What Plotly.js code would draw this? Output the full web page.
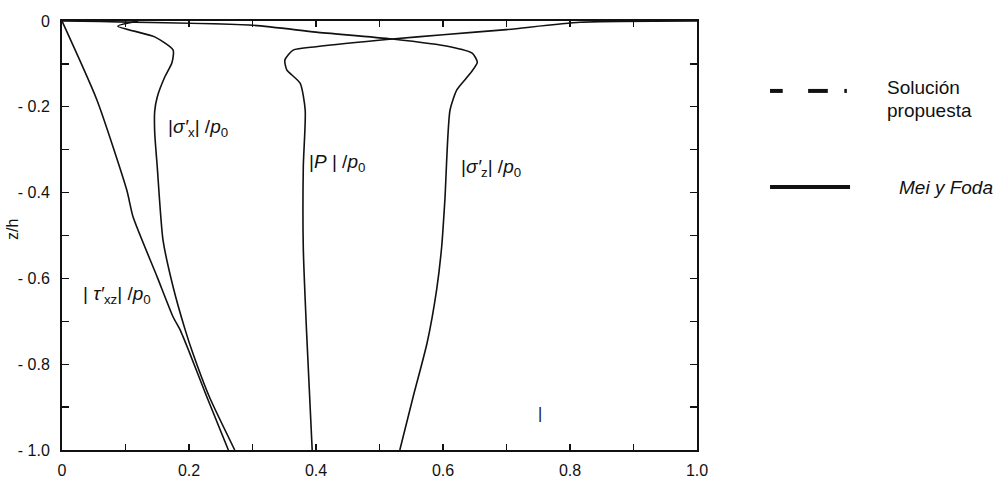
<!DOCTYPE html>
<html>
<head>
<meta charset="utf-8">
<script src="https://cdn.plot.ly/plotly-3.0.1.min.js"></script>
<style>
html,body{margin:0;padding:0;background:#fff;}
#chart{width:1008px;height:483px;}
</style>
</head>
<body>
<div id="chart"></div>
<script>
// |tau'_xz| / p0
const tauX = [0, 0.055, 0.102, 0.112, 0.150, 0.175, 0.186, 0.200, 0.228, 0.262];
const tauZ = [0, -0.184, -0.394, -0.457, -0.597, -0.690, -0.720, -0.770, -0.876, -1.0];

// |sigma'_x| / p0
const sigxX = [0.120, 0.088, 0.146, 0.175, 0.173, 0.162, 0.150, 0.146, 0.146, 0.150, 0.159, 0.175, 0.194, 0.205, 0.232, 0.272];
const sigxZ = [0, -0.012, -0.037, -0.068, -0.098, -0.130, -0.177, -0.210, -0.260, -0.340, -0.510, -0.620, -0.720, -0.770, -0.876, -1.0];

// |P| / p0
const pX = [1.0, 0.816, 0.700, 0.600, 0.520, 0.400, 0.364, 0.351, 0.354, 0.375, 0.383, 0.380, 0.380, 0.385, 0.394];
const pZ = [0, -0.003, -0.020, -0.032, -0.042, -0.060, -0.068, -0.091, -0.114, -0.145, -0.208, -0.340, -0.530, -0.720, -1.0];

// |sigma'_z| / p0
const sigzX = [0, 0.300, 0.400, 0.520, 0.611, 0.646, 0.654, 0.643, 0.622, 0.611, 0.603, 0.598, 0.590, 0.575, 0.553, 0.532];
const sigzZ = [0, -0.010, -0.026, -0.042, -0.060, -0.075, -0.096, -0.122, -0.160, -0.208, -0.416, -0.525, -0.626, -0.750, -0.876, -1.0];

// ticks
const xTickVals = [0, 0.1, 0.2, 0.3, 0.4, 0.5, 0.6, 0.7, 0.8, 0.9, 1.0];
const xTickText = ["0", "", "0.2", "", "0.4", "", "0.6", "", "0.8", "", "1.0"];
const yTickVals = [0, -0.1, -0.2, -0.3, -0.4, -0.5, -0.6, -0.7, -0.8, -0.9, -1.0];
const yTickText = ["0", "", "- 0.2", "", "- 0.4", "", "- 0.6", "", "- 0.8", "", "- 1.0"];

const lineStyle = {color: '#111', width: 1.6, shape: 'spline', smoothing: 0.6};
const traces = [
  {x: tauX, y: tauZ, mode: 'lines', line: lineStyle, hoverinfo: 'skip'},
  {x: sigxX, y: sigxZ, mode: 'lines', line: lineStyle, hoverinfo: 'skip'},
  {x: pX, y: pZ, mode: 'lines', line: lineStyle, hoverinfo: 'skip'},
  {x: sigzX, y: sigzZ, mode: 'lines', line: lineStyle, hoverinfo: 'skip'}
];

const FAM = 'Liberation Sans, Arial, sans-serif';
const labFont = {family: FAM, size: 19, color: '#111'};
const legFont = {family: FAM, size: 19, color: '#111'};
const tickFont = {family: FAM, size: 16, color: '#111'};

const layout = {
  width: 1008, height: 483,
  margin: {l: 62, r: 311, t: 21, b: 33},
  paper_bgcolor: '#fff', plot_bgcolor: '#fff',
  showlegend: false,
  xaxis: {
    range: [0, 1], tickmode: 'array', tickvals: xTickVals, ticktext: xTickText,
    ticks: 'inside', ticklen: 6, tickwidth: 1.3, tickcolor: '#111',
    showline: true, linewidth: 2, linecolor: '#111', mirror: 'ticks',
    showgrid: false, zeroline: false,
    tickfont: tickFont, ticklabelstandoff: 5
  },
  yaxis: {
    range: [-1, 0], tickmode: 'array', tickvals: yTickVals, ticktext: yTickText,
    ticks: 'inside', ticklen: 7, tickwidth: 1.3, tickcolor: '#111',
    showline: true, linewidth: 2, linecolor: '#111', mirror: 'ticks',
    showgrid: false, zeroline: false,
    tickfont: tickFont, ticklabelstandoff: 7
  },
  annotations: [
    {x: 0.214, y: -0.249, xref: 'x', yref: 'y', xanchor: 'center', yanchor: 'middle', text: '|<i>σ′</i><sub>x</sub>| /<i>p</i><sub>0</sub>', showarrow: false, font: labFont},
    {x: 0.433, y: -0.331, xref: 'x', yref: 'y', xanchor: 'center', yanchor: 'middle', text: '|<i>P</i> | /<i>p</i><sub>0</sub>', showarrow: false, font: labFont},
    {x: 0.676, y: -0.343, xref: 'x', yref: 'y', xanchor: 'center', yanchor: 'middle', text: '|<i>σ′</i><sub>z</sub>| /<i>p</i><sub>0</sub>', showarrow: false, font: labFont},
    {x: 0.087, y: -0.639, xref: 'x', yref: 'y', xanchor: 'center', yanchor: 'middle', text: '| <i>τ′</i><sub>xz</sub>| /<i>p</i><sub>0</sub>', showarrow: false, font: labFont},
    {x: 0.753, y: -0.914, xref: 'x', yref: 'y', xanchor: 'center', yanchor: 'middle', text: '|', showarrow: false, font: {family: FAM, size: 16, color: '#111'}},
    {x: -0.077, y: 0.513, xref: 'paper', yref: 'paper', xanchor: 'center', yanchor: 'middle', text: 'z/h', textangle: -90, showarrow: false, font: {family: FAM, size: 16, color: '#111'}},
    {x: 1.296, y: 0.846, xref: 'paper', yref: 'paper', xanchor: 'left', yanchor: 'middle', text: 'Solución', showarrow: false, font: legFont},
    {x: 1.296, y: 0.791, xref: 'paper', yref: 'paper', xanchor: 'left', yanchor: 'middle', text: 'propuesta', showarrow: false, font: legFont},
    {x: 1.315, y: 0.613, xref: 'paper', yref: 'paper', xanchor: 'left', yanchor: 'middle', text: '<i>Mei y Foda</i>', showarrow: false, font: legFont}
  ],
  shapes: [
    {type: 'line', xref: 'paper', yref: 'paper', x0: 1.115, x1: 1.135, y0: 0.837, y1: 0.837, line: {color: '#111', width: 4}},
    {type: 'line', xref: 'paper', yref: 'paper', x0: 1.175, x1: 1.206, y0: 0.837, y1: 0.837, line: {color: '#111', width: 4}},
    {type: 'line', xref: 'paper', yref: 'paper', x0: 1.232, x1: 1.236, y0: 0.837, y1: 0.837, line: {color: '#111', width: 4}},
    {type: 'line', xref: 'paper', yref: 'paper', x0: 1.115, x1: 1.241, y0: 0.613, y1: 0.613, line: {color: '#111', width: 4}}
  ]
};

Plotly.newPlot('chart', traces, layout, {displayModeBar: false, staticPlot: true});
</script>
</body>
</html>
